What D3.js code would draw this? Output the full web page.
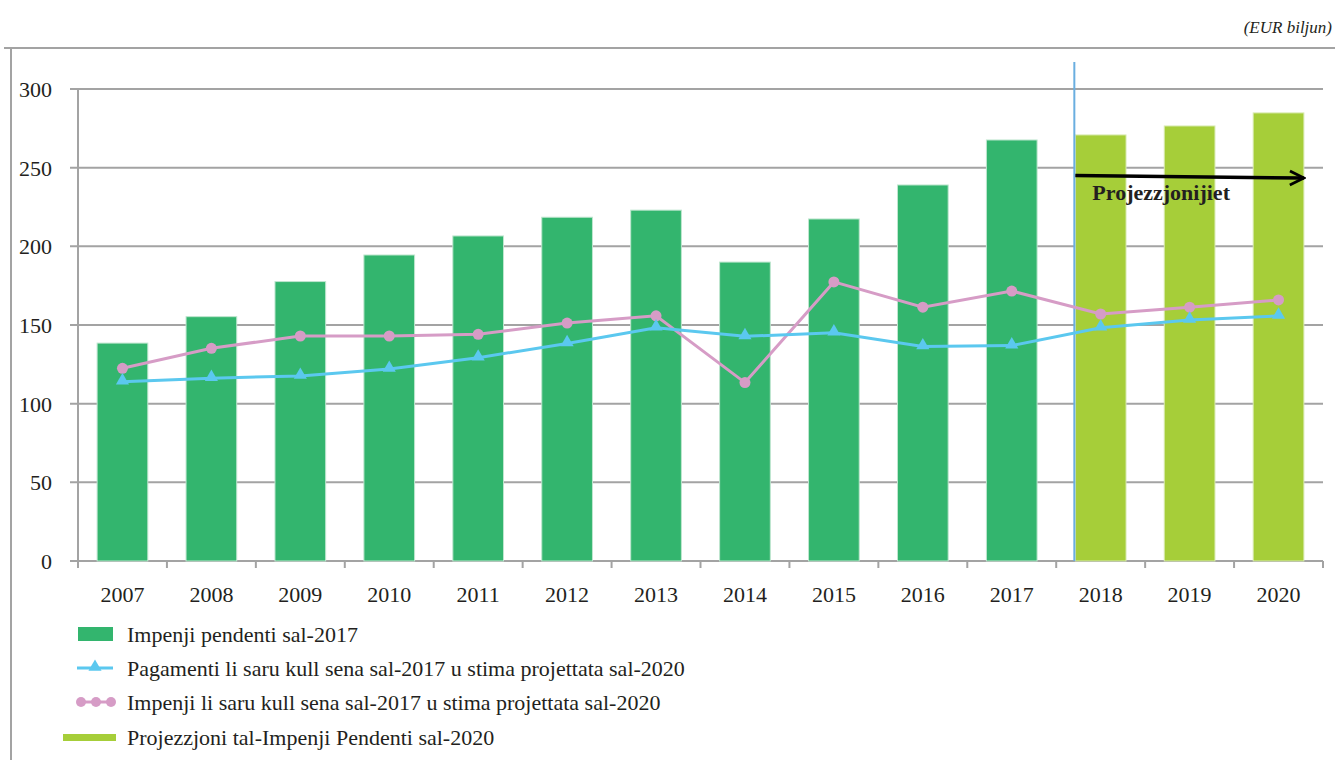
<!DOCTYPE html>
<html lang="en">
<head>
<meta charset="UTF-8">
<title>Impenji pendenti</title>
<style>
    body { margin: 0; background: #fff; }
    svg { display: block; }
    text { font-family: "Liberation Serif", "Times New Roman", serif; fill: #231f20; }
</style>
<script src="https://d3js.org/d3.v7.min.js"></script>
</head>
<body>
<script>
    // data
    var years = ["2007","2008","2009","2010","2011","2012","2013","2014","2015","2016","2017","2018","2019","2020"];
    var pending = [138.5, 155.3, 177.6, 194.5, 206.6, 218.5, 223, 190, 217.4, 239, 267.6, 270.8, 276.5, 284.8];
    var payments = [114, 116.2, 117.6, 122, 129.2, 138.3, 148.3, 142.8, 145.1, 136.3, 136.9, 148.3, 153.2, 155.8];
    var commitments = [122.5, 135.2, 143, 143, 144.1, 151.2, 155.8, 113.4, 177.4, 161.3, 171.6, 157, 161.3, 165.9];
    var yTicks = [0, 50, 100, 150, 200, 250, 300];
    var firstProjected = "2018";
    var legendLabels = [
        "Impenji pendenti sal-2017",
        "Pagamenti li saru kull sena sal-2017 u stima projettata sal-2020",
        "Impenji li saru kull sena sal-2017 u stima projettata sal-2020",
        "Projezzjoni tal-Impenji Pendenti sal-2020"
    ];

    var green = "#33b56e", lime = "#a6ce39", blue = "#5bc8ef", pink = "#d69cc6", grid = "#a3a3a3";

    var svg = d3.select("body").append("svg")
        .attr("width", 1335)
        .attr("height", 760);

    // outer frame
    svg.append("line").attr("x1", 4).attr("x2", 1335).attr("y1", 48).attr("y2", 48)
        .attr("stroke", grid).attr("stroke-width", 2);
    svg.append("line").attr("x1", 11).attr("x2", 11).attr("y1", 48).attr("y2", 760)
        .attr("stroke", grid).attr("stroke-width", 2);

    svg.append("text")
        .attr("x", 1332).attr("y", 33)
        .attr("text-anchor", "end")
        .style("font-style", "italic")
        .style("font-size", "17px")
        .text("(EUR biljun)");

    var x = d3.scaleBand()
        .domain(years)
        .range([78, 1323])
        .paddingInner(0.43)
        .paddingOuter(0.215);

    var y = d3.scaleLinear()
        .domain([0, 300])
        .range([561, 89]);

    var step = x.step();
    var xLeft = 78, xRight = 1323;

    // gridlines
    svg.append("g").selectAll("line")
        .data(yTicks)
        .enter().append("line")
        .attr("x1", xLeft - 8).attr("x2", xRight)
        .attr("y1", function (d) { return y(d); })
        .attr("y2", function (d) { return y(d); })
        .attr("stroke", grid).attr("stroke-width", 2);

    // y axis line
    svg.append("line").attr("x1", xLeft).attr("x2", xLeft).attr("y1", y(300)).attr("y2", y(0) + 7)
        .attr("stroke", grid).attr("stroke-width", 2);

    // x ticks at band edges
    svg.append("g").selectAll("line")
        .data(years.concat(["end"]))
        .enter().append("line")
        .attr("x1", function (d, i) { return xLeft + i * step; })
        .attr("x2", function (d, i) { return xLeft + i * step; })
        .attr("y1", y(0)).attr("y2", y(0) + 7)
        .attr("stroke", grid).attr("stroke-width", 2);

    svg.append("g").selectAll("text")
        .data(yTicks)
        .enter().append("text")
        .attr("x", 52)
        .attr("y", function (d) { return y(d) + 8; })
        .attr("text-anchor", "end")
        .style("font-size", "22px")
        .text(function (d) { return d; });

    svg.append("g").selectAll("text")
        .data(years)
        .enter().append("text")
        .attr("x", function (d) { return x(d) + x.bandwidth() / 2; })
        .attr("y", 602)
        .attr("text-anchor", "middle")
        .style("font-size", "22px")
        .text(function (d) { return d; });

    // bars
    svg.append("g").selectAll("rect")
        .data(years)
        .enter().append("rect")
        .attr("x", function (d) { return x(d); })
        .attr("width", x.bandwidth())
        .attr("y", function (d, i) { return y(pending[i]); })
        .attr("height", function (d, i) { return y(0) - y(pending[i]); })
        .attr("fill", function (d) { return +d >= +firstProjected ? lime : green; })
        .attr("stroke", function (d) { return +d >= +firstProjected ? "#d8eab0" : "#bfe6cf"; })
        .attr("stroke-width", 1);

    // projection divider
    var divX = x(firstProjected) - 1;
    svg.append("line")
        .attr("x1", divX).attr("x2", divX)
        .attr("y1", 62).attr("y2", y(0))
        .attr("stroke", "#6aaee0").attr("stroke-width", 2);

    var cx = function (d) { return x(d) + x.bandwidth() / 2; };

    // lines
    var lineGen = d3.line()
        .x(function (d) { return cx(d[0]); })
        .y(function (d) { return y(d[1]); });

    var payPts = years.map(function (d, i) { return [d, payments[i]]; });
    var comPts = years.map(function (d, i) { return [d, commitments[i]]; });

    svg.append("path").datum(comPts)
        .attr("d", lineGen)
        .attr("fill", "none").attr("stroke", pink).attr("stroke-width", 3);

    svg.append("path").datum(payPts)
        .attr("d", lineGen)
        .attr("fill", "none").attr("stroke", blue).attr("stroke-width", 3);

    svg.append("g").selectAll("circle")
        .data(comPts)
        .enter().append("circle")
        .attr("cx", function (d) { return cx(d[0]); })
        .attr("cy", function (d) { return y(d[1]); })
        .attr("r", 5.5)
        .attr("fill", pink);

    var tri = d3.symbol().type(d3.symbolTriangle).size(75);
    svg.append("g").selectAll("path")
        .data(payPts)
        .enter().append("path")
        .attr("d", tri)
        .attr("transform", function (d) { return "translate(" + cx(d[0]) + "," + (y(d[1]) - 1) + ")"; })
        .attr("fill", blue);

    // projection arrow
    var defs = svg.append("defs");
    defs.append("marker")
        .attr("id", "arrowhead")
        .attr("viewBox", "0 0 10 10")
        .attr("refX", 9).attr("refY", 5)
        .attr("markerWidth", 5).attr("markerHeight", 5)
        .attr("orient", "auto")
        .append("path")
        .attr("d", "M1,1 L9,5 L1,9")
        .attr("fill", "none").attr("stroke", "#000").attr("stroke-width", 1.6);

    svg.append("line")
        .attr("x1", x(firstProjected)).attr("y1", y(245))
        .attr("x2", x("2020") + x.bandwidth()).attr("y2", y(243.4))
        .attr("stroke", "#000").attr("stroke-width", 3.5)
        .attr("marker-end", "url(#arrowhead)");

    svg.append("text")
        .attr("x", x(firstProjected) + 17).attr("y", 200)
        .style("font-size", "22px")
        .style("font-weight", "bold")
        .text("Projezzjonijiet");

    // legend
    var legY = [634, 668, 702, 737];
    var leg = svg.append("g");

    leg.append("rect").attr("x", 78).attr("y", legY[0] - 7).attr("width", 35).attr("height", 14).attr("fill", green);

    leg.append("line").attr("x1", 77).attr("x2", 113).attr("y1", legY[1]).attr("y2", legY[1])
        .attr("stroke", blue).attr("stroke-width", 3);
    leg.append("path").attr("d", tri).attr("transform", "translate(95," + (legY[1] - 1) + ")").attr("fill", blue);

    leg.append("line").attr("x1", 80).attr("x2", 111).attr("y1", legY[2]).attr("y2", legY[2])
        .attr("stroke", pink).attr("stroke-width", 3);
    leg.selectAll("circle.sw")
        .data([81, 96, 111])
        .enter().append("circle")
        .attr("cx", function (d) { return d; })
        .attr("cy", legY[2])
        .attr("r", 5)
        .attr("fill", pink);

    leg.append("rect").attr("x", 63).attr("y", legY[3] - 3).attr("width", 53).attr("height", 7).attr("fill", lime);

    leg.selectAll("text")
        .data(legendLabels)
        .enter().append("text")
        .attr("x", 127)
        .attr("y", function (d, i) { return legY[i] + 8; })
        .style("font-size", "22px")
        .text(function (d) { return d; });
</script>
</body>
</html>
